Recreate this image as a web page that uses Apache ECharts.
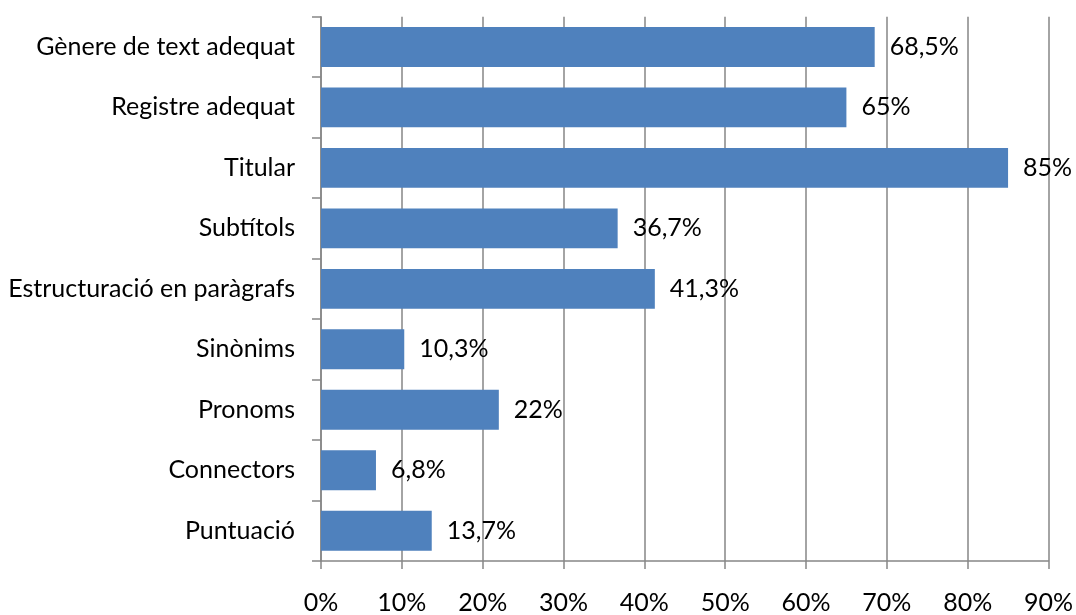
<!DOCTYPE html>
<html>
<head>
<meta charset="utf-8">
<script src="https://cdn.jsdelivr.net/npm/echarts@6/dist/echarts.min.js"></script>
<style>html,body{margin:0;padding:0;background:#fff}#c{width:1076px;height:615px}</style>
</head>
<body>
<div id="c"></div>
<script>
const categories = ["Gènere de text adequat","Registre adequat","Titular","Subtítols","Estructuració en paràgrafs","Sinònims","Pronoms","Connectors","Puntuació"];
const values = [68.5, 65, 85, 36.7, 41.3, 10.3, 22, 6.8, 13.7];
const xTicks = [0,10,20,30,40,50,60,70,80,90];

const font = "Lato, 'Open Sans', sans-serif";
const chart = echarts.init(document.getElementById('c'), null, {renderer:'canvas'});
chart.setOption({
  animation:false,
  backgroundColor:'#fff',
  grid:{left:321, right:26, top:16.7, bottom:53.3, containLabel:false},
  xAxis:{
    type:'value', min:xTicks[0], max:xTicks[xTicks.length-1], interval:10,
    axisLine:{show:true, lineStyle:{color:'#868686', width:1.5}},
    axisTick:{show:true, length:8, lineStyle:{color:'#868686', width:1.5}},
    splitLine:{show:true, lineStyle:{color:'#868686', width:1.5}},
    axisLabel:{margin:29, color:'#000', fontSize:25, fontFamily:font, formatter:v=>v+'%'}
  },
  yAxis:{
    type:'category', data:categories, inverse:true,
    axisLine:{show:true, lineStyle:{color:'#868686', width:1.5}},
    axisTick:{show:true, length:9, alignWithLabel:false, lineStyle:{color:'#868686', width:1.5}},
    axisLabel:{margin:26, color:'#000', fontSize:25, fontFamily:font}
  },
  series:[{
    type:'bar', data:values, barCategoryGap:'34%',
    itemStyle:{color:'#4F81BD'},
    label:{show:true, position:'right', distance:15, color:'#000', fontSize:25, fontFamily:font,
      formatter:p=>String(p.value).replace('.',',')+'%'}
  }]
});
</script>
</body>
</html>
